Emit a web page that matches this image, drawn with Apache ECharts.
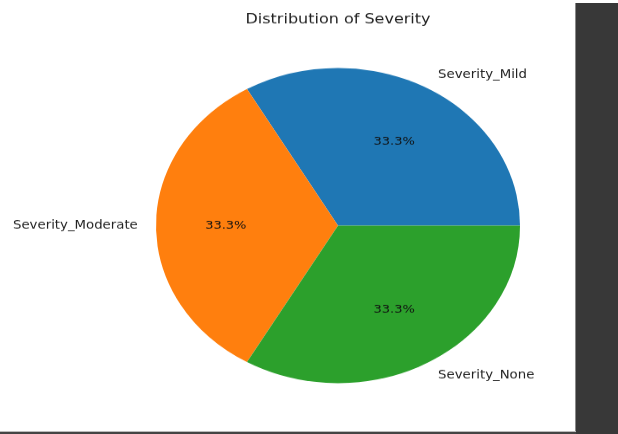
<!DOCTYPE html>
<html>
<head>
<meta charset="utf-8">
<script src="https://cdn.jsdelivr.net/npm/echarts@6/dist/echarts.min.js"></script>
<style>
  html, body { margin: 0; padding: 0; background: #fff; overflow: hidden; }
  #wrap { position: relative; width: 618px; height: 434px; overflow: hidden; }
  /* matplotlib figure was stretched, so squash the chart vertically */
  #main { position: absolute; left: 0; top: 0; width: 618px; height: 501px;
          transform: scaleY(0.866); transform-origin: 0 0; }
  #side { position: absolute; left: 575px; top: 3px; width: 43px; height: 431px;
          background: #383838; border-left: 1px solid #8a8a8a; }
  #bottom { position: absolute; left: 0; top: 431px; width: 576px; height: 2px;
            background: #444; border-top: 1px solid #bbb; }
</style>
</head>
<body>
<div id="wrap">
  <div id="main"></div>
  <div id="side"></div>
  <div id="bottom"></div>
</div>
<script>
// data
var titleText = 'Distribution of Severity';
var categories = ['Severity_Mild', 'Severity_Moderate', 'Severity_None'];
var values = [1, 1, 1];
var colors = ['#1f77b4', '#ff7f0e', '#2ca02c'];

var myChart = echarts.init(document.getElementById('main'));

var pieData = categories.map(function (c, i) {
  return { name: c, value: values[i], itemStyle: { color: colors[i] } };
});
var total = values.reduce(function (a, b) { return a + b; }, 0);

var R = 182;
var option = {
  animation: false,
  title: {
    text: titleText,
    left: 333,
    top: 10,
    textAlign: 'center',
    textStyle: { fontFamily: 'DejaVu Sans', fontSize: 16, fontWeight: 'normal', color: '#222' }
  },
  series: [
    {
      // slices + outer category labels
      type: 'pie',
      center: [338, 260.4],
      radius: R,
      startAngle: 0,
      clockwise: false,
      avoidLabelOverlap: false,
      silent: true,
      data: pieData,
      label: {
        show: true,
        position: 'outside',
        formatter: '{b}',
        distanceToLabelLine: 0,
        fontFamily: 'DejaVu Sans',
        fontSize: 13.3,
        color: '#222'
      },
      labelLine: { show: false, length: R * 0.1, length2: 0 }
    },
    {
      // transparent copy just for the percentage labels at 0.6r
      type: 'pie',
      center: [338, 260.4],
      radius: [R * 0.2, R],
      startAngle: 0,
      clockwise: false,
      silent: true,
      data: categories.map(function (c, i) {
        return { name: c, value: values[i] };
      }),
      itemStyle: { color: 'rgba(0,0,0,0)' },
      label: {
        show: true,
        position: 'inside',
        formatter: function (p) { return (p.value / total * 100).toFixed(1) + '%'; },
        fontFamily: 'DejaVu Sans',
        fontSize: 13,
        color: '#111'
      },
      labelLine: { show: false }
    }
  ]
};
myChart.setOption(option);
</script>
</body>
</html>
